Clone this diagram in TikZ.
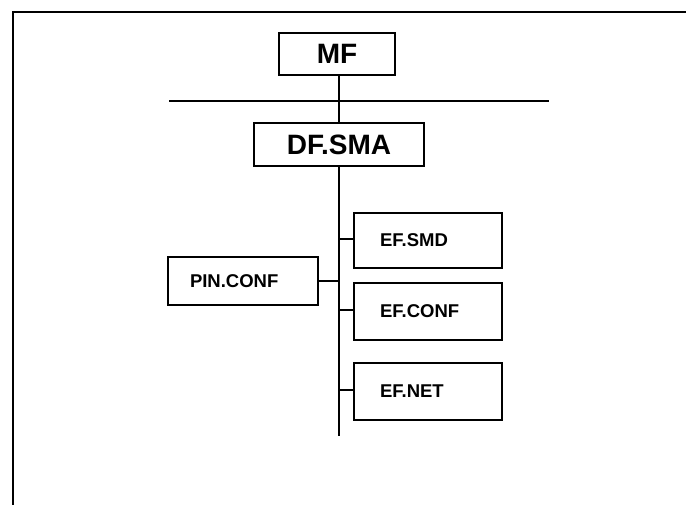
\documentclass[tikz,border=0pt]{standalone}
\usepackage{fontspec}
\setmainfont{Liberation Sans}
\begin{document}
\begin{tikzpicture}[x=1pt,y=-1pt,
  line width=1.3pt,
  topbox/.style={draw, rectangle, inner sep=0pt, font=\bfseries\fontsize{28}{31}\selectfont},
  leafbox/.style={draw, rectangle, inner ysep=0pt, align=left,
    font=\bfseries\fontsize{18.5}{21}\selectfont},
]
\useasboundingbox (0,0) rectangle (686,505);
% page frame (top and left edges)
\draw[line width=2pt] (13,505) -- (13,12) -- (686,12);

% upper boxes
\node[topbox, minimum width=116pt, minimum height=42pt] (mf) at (337,54) {MF};
\node[topbox, minimum width=170pt, minimum height=43pt] (dfsma) at (339,144.5) {DF.SMA};

% horizontal rule
\coordinate (hl1) at (169,101);
\coordinate (hl2) at (549,101);
\draw (hl1) -- (hl2);
\draw ([xshift=2pt]mf.south) -- ([xshift=2pt]mf.south |- dfsma.north);

% trunk
\coordinate (trunkend) at (339,436);
\draw (dfsma.south) -- (trunkend);

% branch boxes
\node[leafbox, inner xsep=26pt, text width=96pt, minimum height=55pt] (efsmd) at (428,240.5) {EF.SMD};
\node[leafbox, inner xsep=26pt, text width=96pt, minimum height=57pt] (efconf) at (428,311.5) {EF.CONF};
\node[leafbox, inner xsep=26pt, text width=96pt, minimum height=57pt] (efnet) at (428,391.5) {EF.NET};
\node[leafbox, inner xsep=22pt, text width=106pt, minimum height=48pt] (pinconf) at (243,281) {PIN.CONF};

% connectors to the trunk
\draw ([yshift=1.5pt]efsmd.west) -- ([yshift=1.5pt]efsmd.west -| trunkend);
\draw ([yshift=1.5pt]efconf.west) -- ([yshift=1.5pt]efconf.west -| trunkend);
\draw ([yshift=1.5pt]efnet.west) -- ([yshift=1.5pt]efnet.west -| trunkend);
\draw (pinconf.east) -- (pinconf.east -| trunkend);
\end{tikzpicture}
\end{document}
